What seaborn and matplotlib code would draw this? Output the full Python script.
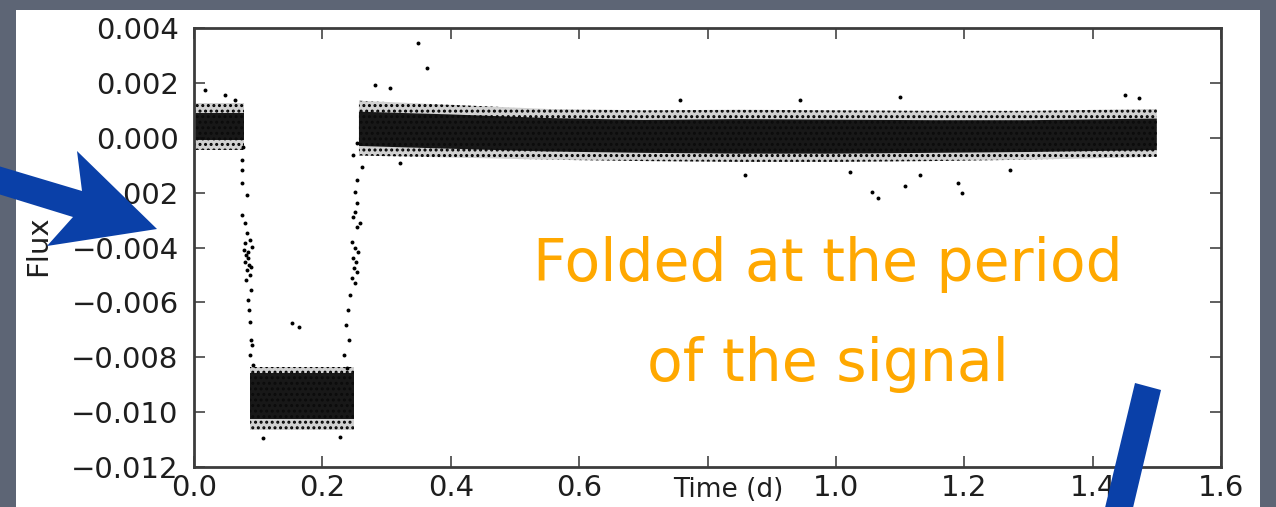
import numpy as np
import pandas as pd
import matplotlib
matplotlib.use("Agg")
import matplotlib.pyplot as plt
from matplotlib.patches import Polygon, Rectangle
import seaborn as sns

# Phase-folded light curve: envelope of the dense photometric band (NaN breaks segments)
band_phase = [0.000, 0.078, np.nan, 0.087, 0.250, np.nan,
              0.257, 0.40, 0.55, 0.70, 0.85, 1.00, 1.15, 1.30, 1.50]
halo_hi = [0.00127, 0.00127, np.nan, -0.00836, -0.00836, np.nan,
           0.00135, 0.00120, 0.00105, 0.00100, 0.00102, 0.00100, 0.00098, 0.00098, 0.00105]
core_hi = [0.00090, 0.00090, np.nan, -0.00856, -0.00856, np.nan,
           0.00095, 0.00085, 0.00072, 0.00065, 0.00068, 0.00066, 0.00064, 0.00064, 0.00070]
core_lo = [-0.00010, -0.00010, np.nan, -0.01025, -0.01025, np.nan,
           -0.00030, -0.00040, -0.00050, -0.00055, -0.00058, -0.00058, -0.00055, -0.00052, -0.00045]
halo_lo = [-0.00045, -0.00045, np.nan, -0.01065, -0.01065, np.nan,
           -0.00065, -0.00072, -0.00080, -0.00085, -0.00088, -0.00088, -0.00085, -0.00080, -0.00070]

# Individual measurements: ingress, egress and outliers
point_phase = [
    # ingress
    0.0763, 0.0748, 0.0748, 0.0748, 0.0826, 0.0748, 0.0795, 0.0826, 0.0872, 0.0795,
    0.0841, 0.0904, 0.0779, 0.0810, 0.0841, 0.0795, 0.0857, 0.0826, 0.0872, 0.0810,
    0.0888, 0.0841, 0.0857, 0.0872, 0.0888, 0.0904, 0.0872, 0.0920, 0.0888,
    # egress
    0.2477, 0.2539, 0.2617, 0.2539, 0.2508, 0.2539, 0.2508, 0.2477, 0.2586, 0.2539,
    0.2461, 0.2508, 0.2555, 0.2477, 0.2524, 0.2493, 0.2539, 0.2461, 0.2508,
    0.2430, 0.2399, 0.2368, 0.2415, 0.2337, 0.2384,
    # in-transit outliers
    0.1527, 0.1636, 0.1075, 0.2274,
    # out-of-transit outliers
    0.017, 0.048, 0.064, 0.349, 0.363, 0.282, 0.305, 0.757, 1.450, 1.473, 0.944, 1.100,
    1.0655, 1.0562, 1.1077, 1.190, 1.196, 1.131, 1.022, 1.271, 0.321, 0.858,
]
point_flux = [
    # ingress
    -0.00034, -0.00081, -0.00118, -0.00165, -0.00209, -0.00282, -0.00311, -0.00347, -0.00373, -0.00384,
    -0.00416, -0.00398, -0.00409, -0.00427, -0.00438, -0.00453, -0.00464, -0.00482, -0.00500, -0.00518,
    -0.00555, -0.00591, -0.00628, -0.00672, -0.00737, -0.00755, -0.00792, -0.00828, -0.00470,
    # egress
    -0.00063, -0.00019, -0.00107, -0.00154, -0.00198, -0.00238, -0.00271, -0.00289, -0.00311, -0.00325,
    -0.00380, -0.00402, -0.00416, -0.00438, -0.00453, -0.00475, -0.00489, -0.00511, -0.00529,
    -0.00573, -0.00628, -0.00682, -0.00737, -0.00792, -0.00839,
    # in-transit outliers
    -0.00675, -0.00690, -0.01094, -0.01090,
    # out-of-transit outliers
    0.00174, 0.00156, 0.00138, 0.00345, 0.00254, 0.00192, 0.00181, 0.00138, 0.00156, 0.00145, 0.00138, 0.00149,
    -0.00220, -0.00198, -0.00176, -0.00165, -0.00201, -0.00136, -0.00125, -0.00118, -0.00092, -0.00136,
]

x_ticks = [0.0, 0.2, 0.4, 0.6, 0.8, 1.0, 1.2, 1.4, 1.6]
# the 0.8 label sits behind the axis title and is left blank
x_tick_labels = ["0.0", "0.2", "0.4", "0.6", "", "1.0", "1.2", "1.4", "1.6"]
y_ticks = [-0.012, -0.010, -0.008, -0.006, -0.004, -0.002, 0.000, 0.002, 0.004]

sns.set_theme(style="ticks")
plt.rcParams["font.family"] = ["DejaVu Sans"]
plt.rcParams["hatch.linewidth"] = 1.4

W, H = 1276, 507
fig = plt.figure(figsize=(W / 100, H / 100), dpi=100, facecolor="#5d6575")

# white slide panel
fig.patches.append(Rectangle((16 / W, 0), (1260 - 16) / W, (H - 10) / H,
                             transform=fig.transFigure, facecolor="white",
                             edgecolor="none", zorder=-1))

ax = fig.add_axes([194 / W, 1 - 467 / H, 1027 / W, 439 / H])
ax.set_facecolor("white")

ax.fill_between(band_phase, halo_lo, halo_hi, facecolor=(0, 0, 0, 0.18),
                edgecolor="black", hatch="...", linewidth=0)
ax.fill_between(band_phase, core_lo, core_hi, color="#0c0c0c", alpha=0.94, linewidth=0)

pts = pd.DataFrame({"phase": point_phase, "flux": point_flux})
sns.scatterplot(data=pts, x="phase", y="flux", color="black", s=8, linewidth=0, ax=ax)

ax.set_xlim(0, 1.6)
ax.set_ylim(-0.012, 0.004)
ax.set_xticks(x_ticks, labels=x_tick_labels)
ax.set_yticks(y_ticks, labels=[f"{v:.3f}".replace("-", "\u2212") for v in y_ticks])
ax.tick_params(direction="in", length=8, width=1.2, color="#444444",
               top=True, right=True, labelsize=21, labelcolor="#1e1e1e")
ax.tick_params(axis="y", pad=11)
ax.tick_params(axis="x", pad=5)
for s in ax.spines.values():
    s.set_linewidth(2)
    s.set_color("#3c3c3c")

ax.set_xlabel("Time (d)", fontsize=19, color="#1e1e1e")
ax.xaxis.set_label_coords((728 - 194) / 1027, (467 - 490) / 439)
ax.xaxis.label.set_va("center")
ax.set_ylabel("Flux", fontsize=21, color="#1e1e1e")
ax.yaxis.set_label_coords((52 - 194) / 1027, (467 - 246) / 439)

# caption
fig.text(828 / W, 1 - 281 / H, "Folded at the period", ha="center", va="baseline",
         fontsize=42, color="#FFA800")
fig.text(828 / W, 1 - 381 / H, "of the signal", ha="center", va="baseline",
         fontsize=42, color="#FFA800")

# pointer arrows
def px(points):
    return [(x / W, 1 - y / H) for x, y in points]

blue = "#0a40a8"
fig.patches.append(Polygon(px([(-5, 165), (82, 191), (77, 151), (157, 229),
                               (47, 246), (73, 217), (-5, 193)]),
                           closed=True, transform=fig.transFigure,
                           facecolor=blue, edgecolor="none", zorder=10))
fig.patches.append(Polygon(px([(1135, 383), (1161, 390), (1132, 512), (1104, 512)]),
                           closed=True, transform=fig.transFigure,
                           facecolor=blue, edgecolor="none", zorder=10))

fig.savefig("out.png", dpi=100, facecolor=fig.get_facecolor())
